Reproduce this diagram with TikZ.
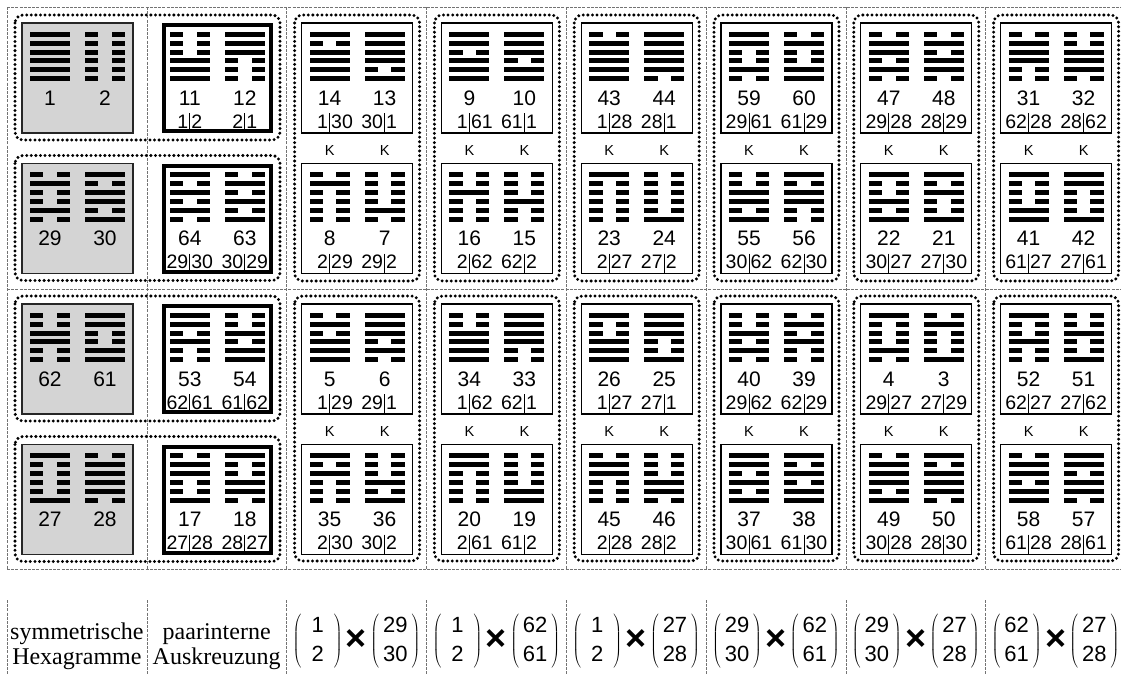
\documentclass[tikz,border=0pt]{standalone}
\usepackage{fontspec}
\setmainfont{Liberation Serif}
\newfontfamily\arial{Liberation Sans}
\tikzset{
 gridl/.style={draw=black!55, line width=0.6pt, dash pattern=on 3pt off 1.2pt},
 dotbox/.style={draw=black, line width=3.3pt, dash pattern=on 0pt off 4.6pt, line cap=round, rounded corners=8pt},
 thinbox/.style={draw=black, line width=1.3pt},
 boldbox/.style={draw=black, line width=4pt},
 graybox/.style={draw=black!85, line width=1.3pt, fill=black!17},
 num/.style={font=\arial\fontsize{21}{21}\selectfont, inner sep=0pt, anchor=base},
 sub/.style={font=\arial\fontsize{19.5}{19.5}\selectfont, inner sep=0pt},
 kl/.style={font=\arial\fontsize{14.5}{14.5}\selectfont, inner sep=0pt, anchor=base},
 bar/.style={draw=black, line width=0.8pt},
 lab/.style={font=\fontsize{24}{30}\selectfont, inner sep=0pt, anchor=base},
 expr/.style={font=\arial\fontsize{22}{29}\selectfont, inner sep=0pt},
}
\newcommand\hexg[3]{%
  \foreach \bt [count=\i from 0] in {#3} {%
    \ifnum\bt=1
      \fill ({#1-20},{#2+\i*8.9}) rectangle ({#1+20},{#2+\i*8.9+5});
    \else
      \fill ({#1-20},{#2+\i*8.9}) rectangle ({#1-6.7},{#2+\i*8.9+5});
      \fill ({#1+6.7},{#2+\i*8.9}) rectangle ({#1+20},{#2+\i*8.9+5});
    \fi
  }}
\newcommand\hexcell[6]{%
  \hexg{#1+28}{#2+8.7}{#4}
  \hexg{#1+83}{#2+8.7}{#6}
  \node[num] (h#3) at ({#1+28},{#2+82}) {#3};
  \node[num] (h#5) at ({#1+83},{#2+82}) {#5};
}
\newcommand\subl[8]{%
  \node[sub, anchor=base east] (sa#3) at ({#1+26.6},{#2+105}) {#5};
  \node[sub, anchor=base west] (sb#3) at ({#1+29.4},{#2+105}) {#6};
  \node[sub, anchor=base east] (sa#4) at ({#1+81.6},{#2+105}) {#7};
  \node[sub, anchor=base west] (sb#4) at ({#1+84.4},{#2+105}) {#8};
  \draw[bar] ({#1+28},{#2+90}) -- ({#1+28},{#2+110});
  \draw[bar] ({#1+83},{#2+90}) -- ({#1+83},{#2+110});
}
\newcommand\kpair[4]{%
  \node[kl] (k#3) at ({#1+28},{#2}) {K};
  \node[kl] (k#4) at ({#1+83},{#2}) {K};
}
\newcommand\stdcol[1]{%
  \draw[dotbox] ({#1-7},15) rectangle ({#1+118},281);
  \draw[dotbox] ({#1-7},296) rectangle ({#1+118},561);
  \draw[thinbox] (#1,23) rectangle ++(111,110);
  \draw[thinbox] (#1,163.5) rectangle ++(111,110);
  \draw[thinbox] (#1,304) rectangle ++(111,110);
  \draw[thinbox] (#1,444.5) rectangle ++(111,110);
}
\newcommand\pstack[2]{\left(\begin{tabular}{@{\,}c@{\,}}\makebox[25pt]{#1}\\\makebox[25pt]{#2}\end{tabular}\right)}
\newcommand\tms{\raisebox{-4pt}{\fontsize{36}{36}\selectfont\bfseries ×}}
\begin{document}
\begin{tikzpicture}[x=1pt,y=-1pt]
\useasboundingbox (0,0) rectangle (1121,675);
% grid
\foreach \gx in {7,146.8,286.6,426.4,566.2,706,845.8,985.6} {
  \draw[gridl] (\gx,7) -- (\gx,569);
  \draw[gridl] (\gx,600) -- (\gx,675);
}
\draw[gridl] (7,7) -- (1121,7);
\draw[gridl] (7,289) -- (1121,289);
\draw[gridl] (7,569) -- (1121,569);
% columns 1-2
\foreach \T in {23,163.5,304,444.5} {
  \draw[dotbox] (15,{\T-8}) rectangle (280,{\T+117});
  \draw[graybox] (22,\T) rectangle ++(111,110);
  \draw[boldbox] (163.8,{\T+2}) rectangle (270.8,{\T+108});
}
\hexcell{22}{23}{1}{1,1,1,1,1,1}{2}{0,0,0,0,0,0}
\hexcell{22}{163.5}{29}{0,1,0,0,1,0}{30}{1,0,1,1,0,1}
\hexcell{22}{304}{62}{0,0,1,1,0,0}{61}{1,1,0,0,1,1}
\hexcell{22}{444.5}{27}{1,0,0,0,0,1}{28}{0,1,1,1,1,0}
\hexcell{161.8}{23}{11}{0,0,0,1,1,1}{12}{1,1,1,0,0,0}
\subl{161.8}{23}{11}{12}{1}{2}{2}{1}
\hexcell{161.8}{163.5}{64}{1,0,1,0,1,0}{63}{0,1,0,1,0,1}
\subl{161.8}{163.5}{64}{63}{29}{30}{30}{29}
\hexcell{161.8}{304}{53}{1,1,0,1,0,0}{54}{0,0,1,0,1,1}
\subl{161.8}{304}{53}{54}{62}{61}{61}{62}
\hexcell{161.8}{444.5}{17}{0,1,1,0,0,1}{18}{1,0,0,1,1,0}
\subl{161.8}{444.5}{17}{18}{27}{28}{28}{27}
% column 3
\stdcol{301.6}
\hexcell{301.6}{23}{14}{1,0,1,1,1,1}{13}{1,1,1,1,0,1}
\subl{301.6}{23}{14}{13}{1}{30}{30}{1}
\kpair{301.6}{155}{14}{13}
\hexcell{301.6}{163.5}{8}{0,1,0,0,0,0}{7}{0,0,0,0,1,0}
\subl{301.6}{163.5}{8}{7}{2}{29}{29}{2}
\hexcell{301.6}{304}{5}{0,1,0,1,1,1}{6}{1,1,1,0,1,0}
\subl{301.6}{304}{5}{6}{1}{29}{29}{1}
\kpair{301.6}{436}{5}{6}
\hexcell{301.6}{444.5}{35}{1,0,1,0,0,0}{36}{0,0,0,1,0,1}
\subl{301.6}{444.5}{35}{36}{2}{30}{30}{2}
% column 4
\stdcol{441.4}
\hexcell{441.4}{23}{9}{1,1,0,1,1,1}{10}{1,1,1,0,1,1}
\subl{441.4}{23}{9}{10}{1}{61}{61}{1}
\kpair{441.4}{155}{9}{10}
\hexcell{441.4}{163.5}{16}{0,0,1,0,0,0}{15}{0,0,0,1,0,0}
\subl{441.4}{163.5}{16}{15}{2}{62}{62}{2}
\hexcell{441.4}{304}{34}{0,0,1,1,1,1}{33}{1,1,1,1,0,0}
\subl{441.4}{304}{34}{33}{1}{62}{62}{1}
\kpair{441.4}{436}{34}{33}
\hexcell{441.4}{444.5}{20}{1,1,0,0,0,0}{19}{0,0,0,0,1,1}
\subl{441.4}{444.5}{20}{19}{2}{61}{61}{2}
% column 5
\stdcol{581.2}
\hexcell{581.2}{23}{43}{0,1,1,1,1,1}{44}{1,1,1,1,1,0}
\subl{581.2}{23}{43}{44}{1}{28}{28}{1}
\kpair{581.2}{155}{43}{44}
\hexcell{581.2}{163.5}{23}{1,0,0,0,0,0}{24}{0,0,0,0,0,1}
\subl{581.2}{163.5}{23}{24}{2}{27}{27}{2}
\hexcell{581.2}{304}{26}{1,0,0,1,1,1}{25}{1,1,1,0,0,1}
\subl{581.2}{304}{26}{25}{1}{27}{27}{1}
\kpair{581.2}{436}{26}{25}
\hexcell{581.2}{444.5}{45}{0,1,1,0,0,0}{46}{0,0,0,1,1,0}
\subl{581.2}{444.5}{45}{46}{2}{28}{28}{2}
% column 6
\stdcol{721}
\hexcell{721}{23}{59}{1,1,0,0,1,0}{60}{0,1,0,0,1,1}
\subl{721}{23}{59}{60}{29}{61}{61}{29}
\kpair{721}{155}{59}{60}
\hexcell{721}{163.5}{55}{0,0,1,1,0,1}{56}{1,0,1,1,0,0}
\subl{721}{163.5}{55}{56}{30}{62}{62}{30}
\hexcell{721}{304}{40}{0,0,1,0,1,0}{39}{0,1,0,1,0,0}
\subl{721}{304}{40}{39}{29}{62}{62}{29}
\kpair{721}{436}{40}{39}
\hexcell{721}{444.5}{37}{1,1,0,1,0,1}{38}{1,0,1,0,1,1}
\subl{721}{444.5}{37}{38}{30}{61}{61}{30}
% column 7
\stdcol{860.8}
\hexcell{860.8}{23}{47}{0,1,1,0,1,0}{48}{0,1,0,1,1,0}
\subl{860.8}{23}{47}{48}{29}{28}{28}{29}
\kpair{860.8}{155}{47}{48}
\hexcell{860.8}{163.5}{22}{1,0,0,1,0,1}{21}{1,0,1,0,0,1}
\subl{860.8}{163.5}{22}{21}{30}{27}{27}{30}
\hexcell{860.8}{304}{4}{1,0,0,0,1,0}{3}{0,1,0,0,0,1}
\subl{860.8}{304}{4}{3}{29}{27}{27}{29}
\kpair{860.8}{436}{4}{3}
\hexcell{860.8}{444.5}{49}{0,1,1,1,0,1}{50}{1,0,1,1,1,0}
\subl{860.8}{444.5}{49}{50}{30}{28}{28}{30}
% column 8
\stdcol{1000.6}
\hexcell{1000.6}{23}{31}{0,1,1,1,0,0}{32}{0,0,1,1,1,0}
\subl{1000.6}{23}{31}{32}{62}{28}{28}{62}
\kpair{1000.6}{155}{31}{32}
\hexcell{1000.6}{163.5}{41}{1,0,0,0,1,1}{42}{1,1,0,0,0,1}
\subl{1000.6}{163.5}{41}{42}{61}{27}{27}{61}
\hexcell{1000.6}{304}{52}{1,0,0,1,0,0}{51}{0,0,1,0,0,1}
\subl{1000.6}{304}{52}{51}{62}{27}{27}{62}
\kpair{1000.6}{436}{52}{51}
\hexcell{1000.6}{444.5}{58}{0,1,1,0,1,1}{57}{1,1,0,1,1,0}
\subl{1000.6}{444.5}{58}{57}{61}{28}{28}{61}
% bottom labels
\node[lab] (l1a) at (76.9,639) {symmetrische};
\node[lab] (l1b) at (76.9,664) {Hexagramme};
\node[lab] (l2a) at (216.7,639) {paarinterne};
\node[lab] (l2b) at (216.7,664) {Auskreuzung};
\node[expr] (x3) at (356.5,641) {$\pstack{1}{2}\tms\pstack{29}{30}$};
\node[expr] (x4) at (496.3,641) {$\pstack{1}{2}\tms\pstack{62}{61}$};
\node[expr] (x5) at (636.1,641) {$\pstack{1}{2}\tms\pstack{27}{28}$};
\node[expr] (x6) at (775.9,641) {$\pstack{29}{30}\tms\pstack{62}{61}$};
\node[expr] (x7) at (915.7,641) {$\pstack{29}{30}\tms\pstack{27}{28}$};
\node[expr] (x8) at (1055.5,641) {$\pstack{62}{61}\tms\pstack{27}{28}$};
\end{tikzpicture}
\end{document}
